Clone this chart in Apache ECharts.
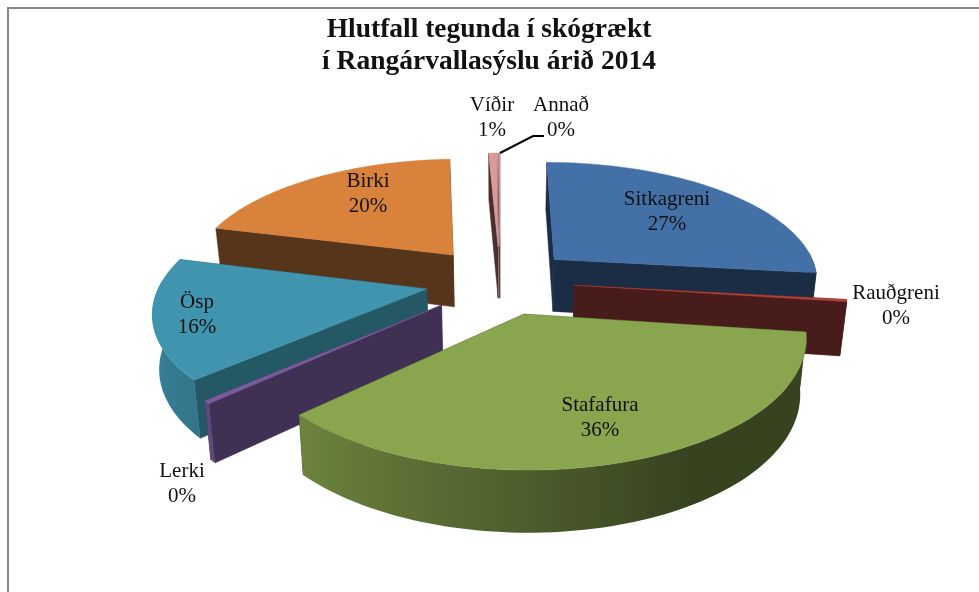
<!DOCTYPE html>
<html><head><meta charset="utf-8">
<script src="https://cdn.jsdelivr.net/npm/echarts@6/dist/echarts.min.js"></script>
<style>html,body{margin:0;padding:0;background:#fff}#c{width:979px;height:592px}</style>
</head><body><div id="c"></div>
<script>
const titleLines = ['Hlutfall tegunda í skógrækt', 'í Rangárvallasýslu árið 2014'];
const categories = ['Sitkagreni','Rauðgreni','Stafafura','Lerki','Ösp','Birki','Víðir','Annað'];
const shares = [26.8,0.3,35.7,0.4,15.7,20.2,0.6,0.1];

const topColors  = ['#4470a8','#b5413d','#89a54e','#7a5c9c','#4094ae','#d8823c','#d99a99','#d99a99'];
const cutColors  = ['#1b2d45','#481c1b','#374220','#403054','#255865','#57351a','#4a2f2e','#4a2f2e'];
const explode    = [0.28,0.28,0.28,0.29,0.28,0.29,0.30,0.30];
const paintOrder = [7,6,5,0,1,4,3,2];
const labelAt = [[667,212],[896,306],[600,418],[182,484],[197,315],[368,194],[492,118],[561,118]];

const view = {cx:500, cy:281, rx:266, ry:119, k:0.16, h:53, bottomScale:0.98};
const total = shares.reduce((a,b)=>a+b,0);
const rad = d => d*Math.PI/180;

function project(u,v,low){
  const s = 1/(1-view.k*v);
  let x = view.rx*u*s, y = view.ry*v*s;
  if(low){ x *= view.bottomScale; y = y*view.bottomScale + view.h*s; }
  return [view.cx+x, view.cy+y];
}
const starts = []; let acc = 0;
shares.forEach(v=>{starts.push(acc); acc += v/total*360;});

function shade(hex,f){
  return 'rgb('+echarts.color.parse(hex).slice(0,3).map(c=>Math.round(c*f)).join(',')+')';
}
function renderSlice(params, api){
  const i = api.value(0);
  const a0 = starts[i], a1 = a0 + shares[i]/total*360, mid = (a0+a1)/2;
  const ou = Math.sin(rad(mid))*explode[i], ov = -Math.cos(rad(mid))*explode[i];
  const rim = (a,low)=>project(ou+Math.sin(rad(a)), ov-Math.cos(rad(a)), low);
  const apex = low=>project(ou,ov,low);
  const n = Math.max(2,Math.ceil((a1-a0)/1.5));
  const arc = []; for(let j=0;j<=n;j++) arc.push(a0+(a1-a0)*j/n);
  const ch = [];
  const cut = c=>({type:'polygon',shape:{points:[apex(false),rim(c,false),rim(c,true),apex(true)]},
      style:{fill:cutColors[i],stroke:cutColors[i],lineWidth:0.5}});
  ch.push(cut(a0),cut(a1));
  const front = arc.filter(a=>Math.cos(rad(a))<0.08);
  if(front.length>1){
    const xs = front.map(a=>rim(a,false)[0]);
    const xMin = Math.min.apply(null,xs), xMax = Math.max.apply(null,xs);
    const stops = front.map((a,j)=>{
      const f = Math.max(0.40,0.56-0.32*Math.sin(rad(a)));
      return {offset:(xs[j]-xMin)/Math.max(1,xMax-xMin),color:shade(topColors[i],f)};
    }).sort((p,q)=>p.offset-q.offset);
    const pts = front.map(a=>rim(a,false)).concat(front.slice().reverse().map(a=>rim(a,true)));
    ch.push({type:'polygon',shape:{points:pts},style:{
      fill:{type:'linear',x:xMin,y:0,x2:Math.max(xMin+1,xMax),y2:0,global:true,colorStops:stops}}});
  }
  ch.push({type:'polygon',shape:{points:[apex(false)].concat(arc.map(a=>rim(a,false)))},
      style:{fill:topColors[i],stroke:topColors[i],lineWidth:0.4}});
  return {type:'group',children:ch};
}

const labelFont = {fontFamily:'"Liberation Serif"',fontSize:21,lineHeight:25,fill:'#111',textAlign:'center',textVerticalAlign:'middle'};
const labels = categories.map((c,i)=>({type:'text',z:100,x:labelAt[i][0],y:labelAt[i][1],silent:true,
  style:Object.assign({text:c+'\n'+Math.round(shares[i]/total*100)+'%'},labelFont)}));

const chart = echarts.init(document.getElementById('c'),null,{renderer:'canvas'});
chart.setOption({
  animation:false,
  backgroundColor:'#fff',
  title:{text:titleLines.join('\n'),left:484,top:9,textAlign:'center',
    textStyle:{fontFamily:'"Liberation Serif"',fontWeight:'bold',fontSize:27.5,lineHeight:32,color:'#111'}},
  graphic:[
    {type:'polyline',z:50,silent:true,shape:{points:[[8,592],[8,8],[979,8]]},style:{fill:null,stroke:'#868686',lineWidth:2}},
    {type:'polyline',z:50,silent:true,shape:{points:[[500,153],[533,136],[544,136]]},style:{fill:null,stroke:'#000',lineWidth:2}}
  ].concat(labels),
  series:[{type:'custom',coordinateSystem:'none',silent:true,renderItem:renderSlice,
    data:paintOrder.map(i=>[i])}]
});
</script></body></html>
